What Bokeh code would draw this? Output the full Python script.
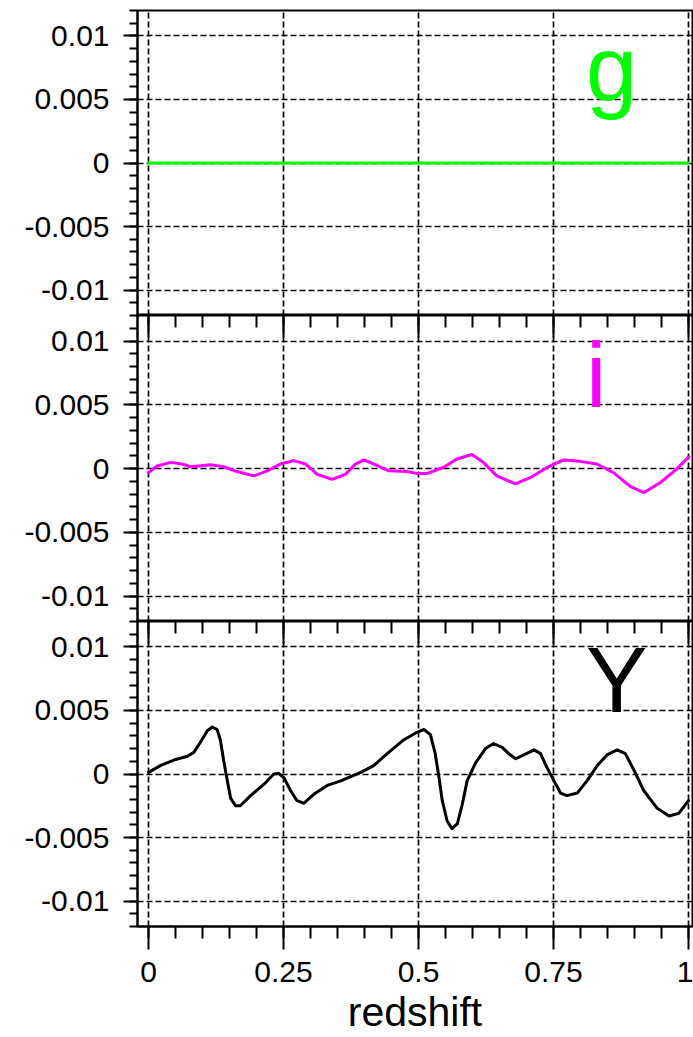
from bokeh.plotting import figure
from bokeh.layouts import column
from bokeh.models import FixedTicker, LinearAxis, Range1d
from bokeh.core.properties import value
from bokeh.embed import file_html
from bokeh.resources import INLINE

# ---------------- data ----------------
bands = ["g", "i", "Y"]
band_colors = ["#00ff00", "#ff00ff", "#000000"]

z_g = [0.0, 1.0]
d_g = [0.0, 0.0]

z_i = [0.0, 0.016, 0.041, 0.062, 0.078, 0.115, 0.139, 0.164, 0.195, 0.220,
       0.244, 0.269, 0.291, 0.312, 0.340, 0.365, 0.383, 0.399, 0.424, 0.445,
       0.479, 0.498, 0.515, 0.546, 0.571, 0.599, 0.620, 0.645, 0.679, 0.707,
       0.738, 0.769, 0.799, 0.830, 0.861, 0.892, 0.917, 0.948, 0.978, 1.0]
d_i = [-0.00032, 0.00020, 0.00048, 0.00035, 0.00014, 0.00030, 0.00014, -0.00024,
       -0.00058, -0.00018, 0.00035, 0.00062, 0.00035, -0.00045, -0.00085, -0.00045,
       0.00035, 0.00067, 0.00022, -0.00018, -0.00024, -0.00040, -0.00040, 0.00008,
       0.00075, 0.00110, 0.00048, -0.00058, -0.00120, -0.00072, 0.00008, 0.00067,
       0.00056, 0.00035, -0.00032, -0.00140, -0.00190, -0.00110, -0.00005, 0.00090]

z_Y = [0.0, 0.022, 0.047, 0.072, 0.084, 0.096, 0.109, 0.118, 0.127, 0.133, 0.139,
       0.146, 0.152, 0.161, 0.170, 0.189, 0.214, 0.232, 0.241, 0.251, 0.263, 0.275,
       0.288, 0.306, 0.331, 0.356, 0.393, 0.417, 0.442, 0.473, 0.498, 0.510, 0.522,
       0.531, 0.538, 0.544, 0.553, 0.562, 0.572, 0.581, 0.590, 0.606, 0.624, 0.639,
       0.655, 0.667, 0.680, 0.695, 0.714, 0.726, 0.738, 0.751, 0.763, 0.775, 0.794,
       0.812, 0.831, 0.849, 0.868, 0.883, 0.899, 0.917, 0.942, 0.964, 0.982, 1.0]
d_Y = [0.00013, 0.00066, 0.0011, 0.0014, 0.0017, 0.0025, 0.0034, 0.0037, 0.0035,
       0.0027, 0.0011, -0.00054, -0.0019, -0.0025, -0.0025, -0.0017, -0.0008, 0.0,
       0.00005, -0.0003, -0.0013, -0.0021, -0.0023, -0.0016, -0.0009, -0.00054,
       0.00013, 0.00066, 0.0016, 0.0027, 0.0033, 0.0035, 0.0031, 0.0016, -0.0003,
       -0.0021, -0.0037, -0.0043, -0.0039, -0.0024, -0.00054, 0.0009, 0.0020,
       0.0024, 0.0021, 0.0016, 0.0012, 0.0015, 0.0019, 0.0016, 0.0005, -0.00054,
       -0.0015, -0.0017, -0.0015, -0.00054, 0.00066, 0.0015, 0.0019, 0.0016,
       0.0003, -0.0013, -0.0027, -0.0033, -0.0031, -0.0021]

series_z = [z_g, z_i, z_Y]
series_d = [d_g, d_i, d_Y]

y_ticks = [-0.01, -0.005, 0.0, 0.005, 0.01]
y_tick_labels = ["-0.01", "-0.005", "0", "0.005", "0.01"]
y_minor = [round(-0.012 + 0.001 * k, 4) for k in range(25)]
x_ticks = [0.0, 0.25, 0.5, 0.75, 1.0]
x_tick_labels = ["0", "0.25", "0.5", "0.75", "1"]
x_minor = [round(0.05 * k, 2) for k in range(21)]
x_label = "redshift"

# ---------------- style ----------------
FONT = "Liberation Sans"
X0, X1 = -0.0204, 1.0074
Y0, Y1 = -0.012, 0.012
frame_heights = [305, 306, 305]

panels = []
for k in range(3):
    last = (k == 2)
    p = figure(
        output_backend="svg", toolbar_location=None,
        frame_width=555, frame_height=frame_heights[k],
        x_range=Range1d(X0, X1), y_range=Range1d(Y0, Y1),
        x_axis_location="below" if last else None,
        min_border_left=137, min_border_right=1,
        min_border_top=10 if k == 0 else 0,
        min_border_bottom=111 if last else 0,
        background_fill_color="white", border_fill_color="white",
    )
    p.outline_line_color = "black"
    p.outline_line_width = 2

    # y axis
    ya = p.left[0]
    ya.ticker = FixedTicker(ticks=y_ticks, minor_ticks=y_minor)
    ya.major_label_overrides = {t: s for t, s in zip(y_ticks, y_tick_labels)}
    ya.major_tick_in = 0
    ya.major_tick_out = 14
    ya.minor_tick_in = 0
    ya.minor_tick_out = 8
    ya.major_tick_line_width = 2
    ya.minor_tick_line_width = 2
    ya.axis_line_width = 2
    ya.major_label_text_font = FONT
    ya.major_label_text_font_size = "30px"
    ya.major_label_text_color = "black"
    ya.major_label_standoff = 14

    # grids
    p.xgrid.ticker = FixedTicker(ticks=x_ticks)
    p.ygrid.ticker = FixedTicker(ticks=y_ticks)
    for g in (p.xgrid[0], p.ygrid[0]):
        g.grid_line_color = "black"
        g.grid_line_width = 1.7
        g.grid_line_dash = "6 3"

    if last:
        xa = p.below[0]
        xa.ticker = FixedTicker(ticks=x_ticks, minor_ticks=x_minor)
        xa.major_label_overrides = {t: s for t, s in zip(x_ticks, x_tick_labels)}
        xa.major_tick_in = 0
        xa.major_tick_out = 23
        xa.minor_tick_in = 0
        xa.minor_tick_out = 12
        xa.major_tick_line_width = 2
        xa.minor_tick_line_width = 2
        xa.axis_line_width = 2
        xa.major_label_text_font = FONT
        xa.major_label_text_font_size = "30px"
        xa.major_label_text_color = "black"
        xa.major_label_standoff = 12
        xa.axis_label = x_label
        xa.axis_label_text_font = FONT
        xa.axis_label_text_font_size = "41px"
        xa.axis_label_text_font_style = "normal"
        xa.axis_label_text_color = "black"
        xa.axis_label_standoff = 4

    # top ticks (inside) for lower panels
    if k > 0:
        top = LinearAxis(
            ticker=FixedTicker(ticks=x_ticks, minor_ticks=x_minor),
            major_tick_in=22, major_tick_out=0,
            minor_tick_in=12, minor_tick_out=0,
            major_tick_line_width=2, minor_tick_line_width=2,
            axis_line_color=None,
            major_label_overrides={t: "" for t in x_ticks},
            major_label_text_font_size="1px", major_label_standoff=0,
        )
        p.add_layout(top, "above")

    p.line(series_z[k], series_d[k], line_color=band_colors[k], line_width=3,
           line_join="round", line_cap="round")
    p.text(x=[0.81], y=[0.005], text=[bands[k]], text_color=band_colors[k],
           text_font=value(FONT), text_font_size="92px", y_offset=-30,
           text_align="left", text_baseline="alphabetic")
    panels.append(p)

layout = column(*panels, spacing=0)
open("out.html", "w").write(file_html(layout, INLINE))
